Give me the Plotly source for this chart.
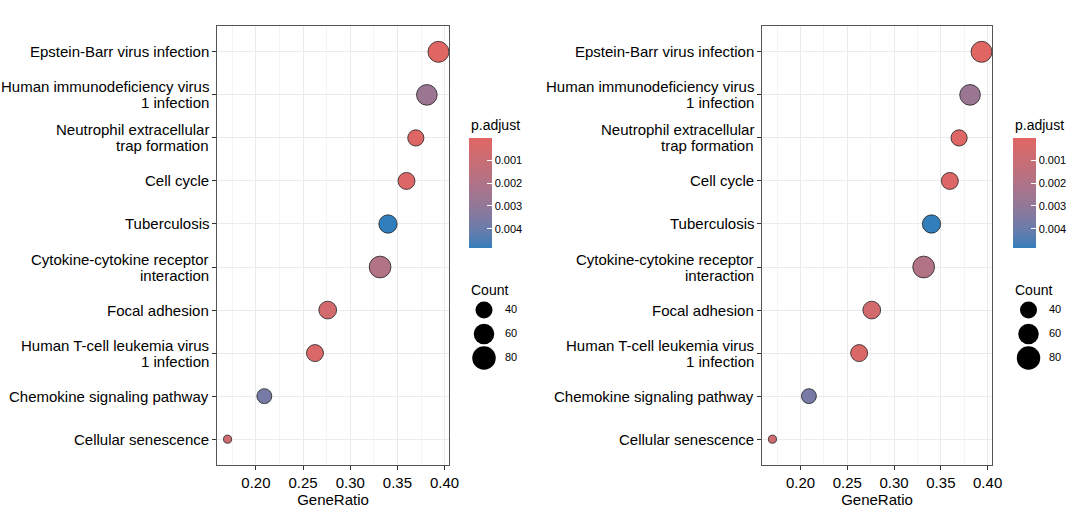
import plotly.graph_objects as go

# ---------------- data ----------------
terms = [
    "Epstein-Barr virus infection",
    "Human immunodeficiency virus<br>1 infection",
    "Neutrophil extracellular<br>trap formation",
    "Cell cycle",
    "Tuberculosis",
    "Cytokine-cytokine receptor<br>interaction",
    "Focal adhesion",
    "Human T-cell leukemia virus<br>1 infection",
    "Chemokine signaling pathway",
    "Cellular senescence",
]
gene_ratio = [0.3935, 0.3812, 0.3695, 0.3596, 0.3400, 0.3316, 0.2761, 0.2626, 0.2089, 0.1699]
count = [63, 61, 36, 40, 47, 68, 44, 40, 30, 6]
p_adjust = [0.00003, 0.0027, 0.00015, 0.0002, 0.00484, 0.0019, 0.0006, 0.0003, 0.0037, 0.0008]

cbar_ticks = [0.001, 0.002, 0.003, 0.004]
count_legend = [40, 60, 80]

# ---------------- helpers ----------------
LOW_COL = "#e06663"   # small p.adjust
HIGH_COL = "#327eba"  # large p.adjust


def hex2rgb(h):
    h = h.lstrip("#")
    return [int(h[i:i + 2], 16) for i in (0, 2, 4)]


def rgb2lab(rgb):
    def lin(c):
        c = c / 255.0
        return c / 12.92 if c <= 0.04045 else ((c + 0.055) / 1.055) ** 2.4
    r, g, b = [lin(c) for c in rgb]
    X = 0.4124 * r + 0.3576 * g + 0.1805 * b
    Y = 0.2126 * r + 0.7152 * g + 0.0722 * b
    Z = 0.0193 * r + 0.1192 * g + 0.9505 * b
    Xn, Yn, Zn = 0.95047, 1.0, 1.08883

    def f(t):
        return t ** (1 / 3) if t > 0.008856 else 7.787 * t + 16 / 116
    fx, fy, fz = f(X / Xn), f(Y / Yn), f(Z / Zn)
    return [116 * fy - 16, 500 * (fx - fy), 200 * (fy - fz)]


def lab2rgb(lab):
    L, a, b = lab
    fy = (L + 16) / 116
    fx = fy + a / 500
    fz = fy - b / 200

    def finv(t):
        return t ** 3 if t ** 3 > 0.008856 else (t - 16 / 116) / 7.787
    X, Y, Z = 0.95047 * finv(fx), finv(fy), 1.08883 * finv(fz)
    r = 3.2406 * X - 1.5372 * Y - 0.4986 * Z
    g = -0.9689 * X + 1.8758 * Y + 0.0415 * Z
    bb = 0.0557 * X - 0.2040 * Y + 1.0570 * Z

    def gam(c):
        c = max(0.0, min(1.0, c))
        return 12.92 * c if c <= 0.0031308 else 1.055 * c ** (1 / 2.4) - 0.055
    return "rgb(%d,%d,%d)" % tuple(round(gam(c) * 255) for c in (r, g, bb))


lab_lo = rgb2lab(hex2rgb(LOW_COL))
lab_hi = rgb2lab(hex2rgb(HIGH_COL))
N = 20
# colour value is -p.adjust so that small p (red) sits at the top of the bar
colorscale = []
for i in range(N + 1):
    t = i / N  # 0 -> largest p (blue), 1 -> smallest p (red)
    lab = [lab_hi[k] + (lab_lo[k] - lab_hi[k]) * t for k in range(3)]
    colorscale.append([t, lab2rgb(lab)])


def diam(c):
    return (26 + 6.575 * c) ** 0.5


W, H = 1080, 511
FONT = "Liberation Sans, Arial, sans-serif"
LINE_H = 16  # line spacing of wrapped axis labels (px)

xmin, xmax = min(gene_ratio), max(gene_ratio)
pad = (xmax - xmin) * 0.05
xrange = [xmin - pad, xmax + pad]
cat_order = terms[::-1]

fig = go.Figure()

panels = [
    dict(x0=217, x1=449, cb=469, cnt=484, lab=505),
    dict(x0=762, x1=992, cb=1013.3, cnt=1028.5, lab=1049),
]
ytop, ybot = 26, 465

layout = dict(
    template="none",
    width=W, height=H,
    margin=dict(l=0, r=0, t=0, b=0, autoexpand=False),
    paper_bgcolor="white", plot_bgcolor="white",
    showlegend=False, hovermode=False,
    font=dict(family=FONT, color="black"),
    annotations=[],
)

for i, p in enumerate(panels):
    n = i + 1
    xa = "x" if n == 1 else "x%d" % (2 * n - 1)
    ya = "y" if n == 1 else "y%d" % (2 * n - 1)
    xa_l = "xaxis" if n == 1 else "xaxis%d" % (2 * n - 1)
    ya_l = "yaxis" if n == 1 else "yaxis%d" % (2 * n - 1)
    xl_l = "xaxis%d" % (2 * n)
    yl_l = "yaxis%d" % (2 * n)
    xl = "x%d" % (2 * n)
    yl = "y%d" % (2 * n)
    cax = "coloraxis" if n == 1 else "coloraxis2"

    fig.add_trace(go.Scatter(
        x=gene_ratio, y=terms, xaxis=xa, yaxis=ya, mode="markers",
        marker=dict(size=[diam(c) for c in count], color=[-v for v in p_adjust],
                    coloraxis=cax, line=dict(color="#222222", width=0.8), opacity=1),
        hoverinfo="skip",
    ))
    # count legend (size key)
    fig.add_trace(go.Scatter(
        x=[0] * len(count_legend), y=list(range(len(count_legend))),
        xaxis=xl, yaxis=yl, mode="markers", cliponaxis=False,
        marker=dict(size=[diam(c) for c in count_legend], color="#000000",
                    line=dict(width=0), opacity=1),
        hoverinfo="skip",
    ))
    fig.add_trace(go.Scatter(
        x=[(p["lab"] - p["cnt"]) / 22.0] * len(count_legend), y=list(range(len(count_legend))),
        xaxis=xl, yaxis=yl, mode="text", text=[str(c) for c in count_legend], cliponaxis=False,
        textposition="middle right", textfont=dict(size=11, color="#000000", family=FONT),
        hoverinfo="skip",
    ))

    layout[xa_l] = dict(
        domain=[p["x0"] / W, p["x1"] / W], range=xrange, anchor=ya, automargin=False,
        dtick=0.05, tick0=0, tickformat=".2f",
        showgrid=True, gridcolor="#EBEBEB", gridwidth=1,
        minor=dict(dtick=0.025, tick0=0, showgrid=True, gridcolor="#F4F4F4", gridwidth=1),
        showline=True, linecolor="#555555", linewidth=1, mirror=True,
        ticks="outside", ticklen=4, tickcolor="#333333", tickwidth=1,
        tickfont=dict(size=15, color="black", family=FONT),
        title=dict(text="GeneRatio", font=dict(size=15, color="black", family=FONT), standoff=2),
        zeroline=False, fixedrange=True,
    )
    layout[ya_l] = dict(
        domain=[1 - ybot / H, 1 - ytop / H], anchor=xa, automargin=False,
        type="category", categoryorder="array", categoryarray=cat_order,
        range=[-0.6, len(terms) - 0.4],
        showgrid=True, gridcolor="#EBEBEB", gridwidth=1,
        showline=True, linecolor="#555555", linewidth=1, mirror=True,
        ticks="outside", ticklen=4, tickcolor="#333333", tickwidth=1,
        showticklabels=False,
        zeroline=False, fixedrange=True,
    )
    # category labels, written line by line for ggplot-like line spacing
    for t in terms:
        lines = t.split("<br>")
        k = len(lines)
        for li, line in enumerate(lines):
            layout["annotations"].append(dict(
                text=line, xref="paper", yref=ya, x=(p["x0"] - 6.5) / W,
                y=cat_order.index(t), yshift=((k - 1) / 2 - li) * LINE_H,
                xanchor="right", yanchor="middle", showarrow=False,
                font=dict(size=15, color="black", family=FONT)))

    cx0 = p["cnt"] - 22
    layout[xl_l] = dict(domain=[cx0 / W, (cx0 + 44) / W], range=[-1, 1], visible=False,
                        anchor=yl, fixedrange=True, automargin=False)
    layout[yl_l] = dict(domain=[1 - 370 / H, 1 - 298 / H], range=[2.5, -0.5], visible=False,
                        anchor=xl, fixedrange=True, automargin=False)

    layout[cax] = dict(
        colorscale=colorscale, cmin=-max(p_adjust), cmax=-min(p_adjust),
        colorbar=dict(
            x=p["cb"] / W, xanchor="left", xpad=0, ypad=0,
            y=1 - 193 / H, yanchor="middle", len=110, lenmode="pixels",
            thickness=23, thicknessmode="pixels", outlinewidth=0,
            tickvals=[-v for v in cbar_ticks], ticktext=["%.3f" % v for v in cbar_ticks],
            ticks="inside", ticklen=5, tickcolor="white", tickwidth=1,
            tickfont=dict(size=11, color="black", family=FONT),
            title=dict(text=""),
        ),
    )
    layout["annotations"] += [
        dict(text="p.adjust", x=p["cb"] / W, y=1 - 125 / H, xref="paper", yref="paper",
             xanchor="left", yanchor="middle", showarrow=False,
             font=dict(size=14, color="black", family=FONT)),
        dict(text="Count", x=p["cb"] / W, y=1 - 290 / H, xref="paper", yref="paper",
             xanchor="left", yanchor="middle", showarrow=False,
             font=dict(size=14, color="black", family=FONT)),
    ]

fig.update_layout(**layout)
fig.write_html(
    "out.html",
    config={"displayModeBar": False, "staticPlot": True},
    post_script="document.body.style.margin='0';document.body.style.padding='0';",
)
